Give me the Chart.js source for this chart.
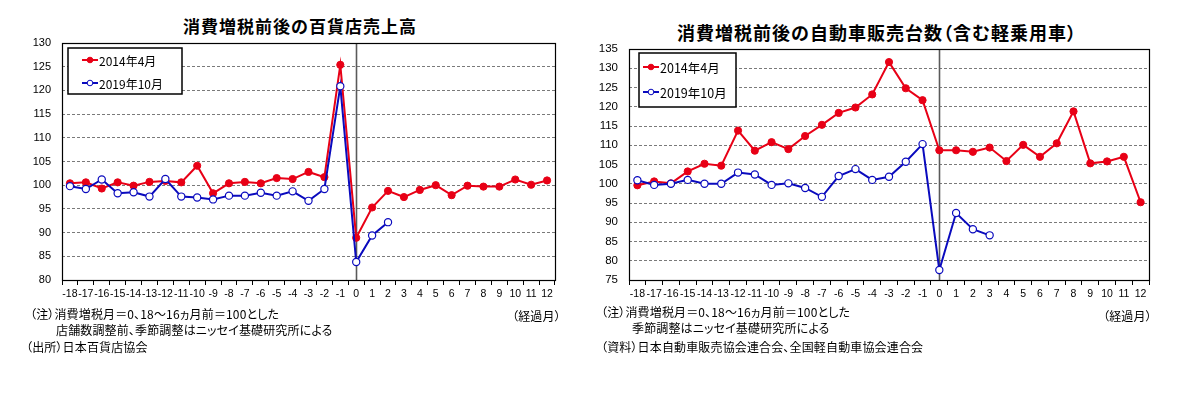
<!DOCTYPE html>
<html><head><meta charset="utf-8">
<script src="https://cdn.jsdelivr.net/npm/chart.js@4.4.1/dist/chart.umd.min.js"></script>
<style>
html,body{margin:0;padding:0;background:#fff;}
body{width:1182px;height:393px;position:relative;overflow:hidden;font-family:"Noto Sans CJK JP","Noto Sans",sans-serif;color:#000;}
canvas{position:absolute;top:0;}
.t{position:absolute;white-space:nowrap;line-height:1;}
.title{font-weight:bold;letter-spacing:1px;transform:translateX(-50%);}
.note{font-size:12px;font-feature-settings:"palt";letter-spacing:0.15px;}
.pp{font-feature-settings:"palt";}
</style></head>
<body>
<div class="t title" style="left:300px;top:17px;font-size:17px;">消費増税前後の百貨店売上高</div>
<div class="t title" style="left:877px;top:23px;font-size:18px;">消費増税前後の自動車販売台数<span class="pp">（</span>含む軽乗用車<span class="pp">）</span></div>
<canvas id="c1" width="590" height="310" style="left:0px"></canvas>
<canvas id="c2" width="592" height="310" style="left:590px"></canvas>
<div class="t note" style="left:30px;top:308px;">（注）消費増税月＝0、18～16ヵ月前＝100とした</div>
<div class="t note" style="left:56px;top:324px;">店舗数調整前、季節調整はニッセイ基礎研究所による</div>
<div class="t note" style="left:26px;top:341px;">（出所）日本百貨店協会</div>
<div class="t note" style="left:512px;top:310px;">（経過月）</div>
<div class="t note" style="left:601px;top:306px;">（注）消費増税月＝0、18～16ヵ月前＝100とした</div>
<div class="t note" style="left:632px;top:322px;">季節調整はニッセイ基礎研究所による</div>
<div class="t note" style="left:601px;top:341px;">（資料）日本自動車販売協会連合会、全国軽自動車協会連合会</div>
<div class="t note" style="left:1103px;top:310px;">（経過月）</div>
<script>
// ---- data ----
const months = ["-18","-17","-16","-15","-14","-13","-12","-11","-10","-9","-8","-7","-6","-5","-4","-3","-2","-1","0","1","2","3","4","5","6","7","8","9","10","11","12"];
const seriesNames = ["2014年4月", "2019年10月"];
const dept2014 = [100.4,100.6,99.3,100.6,99.9,100.7,100.9,100.6,104.1,98.3,100.4,100.7,100.4,101.5,101.3,102.8,101.7,125.4,88.9,95.3,98.8,97.5,99.0,100.0,97.9,99.9,99.7,99.7,101.2,100.1,101.0];
const dept2019 = [99.8,99.2,101.2,98.3,98.5,97.6,101.3,97.6,97.4,97.0,97.8,97.8,98.4,97.8,98.7,96.7,99.2,120.9,83.8,89.4,92.2,null,null,null,null,null,null,null,null,null,null];
const car2014 = [99.6,100.6,100.1,103.2,105.2,104.7,113.8,108.6,110.8,109.0,112.4,115.3,118.4,119.8,123.2,131.6,124.8,121.7,108.7,108.7,108.3,109.4,105.9,110.1,107.0,110.5,118.8,105.3,105.8,107.0,95.2];
const car2019 = [100.9,99.7,100.0,101.0,100.0,100.0,102.9,102.4,99.7,100.1,98.9,96.6,102.0,103.8,101.0,101.8,105.7,110.3,77.6,92.4,88.2,86.6,null,null,null,null,null,null,null,null,null];
const deptTicks = [80,85,90,95,100,105,110,115,120,125,130];
const carTicks = [75,80,85,90,95,100,105,110,115,120,125,130,135];

const RED = 'rgb(232,0,22)';
const BLUE = 'rgb(10,10,190)';

const framePlugin = {
  id:'frame',
  afterDraw(chart, args, opts){
    const {ctx, chartArea:a} = chart;
    ctx.save();
    ctx.strokeStyle = '#000'; ctx.lineWidth = 1.2;
    ctx.strokeRect(Math.round(a.left)+0.5, Math.round(a.top)+0.5, Math.round(a.right-a.left), Math.round(a.bottom-a.top));
    const L = opts.box;
    ctx.fillStyle = '#fff';
    ctx.fillRect(L.x, L.y, L.w, L.h);
    ctx.lineWidth = 1.5; ctx.strokeStyle = '#000';
    ctx.strokeRect(L.x, L.y, L.w, L.h);
    ctx.font = L.font + 'px "Noto Sans CJK JP", sans-serif';
    ctx.textBaseline = 'middle'; ctx.textAlign = 'left';
    chart.data.datasets.forEach((ds, i) => {
      const y = L.rows[i];
      ctx.strokeStyle = ds.borderColor; ctx.lineWidth = 2;
      ctx.beginPath(); ctx.moveTo(L.lx, y); ctx.lineTo(L.lx + L.lw, y); ctx.stroke();
      ctx.beginPath(); ctx.arc(L.lx + L.lw/2, y, 2.8, 0, Math.PI*2);
      ctx.fillStyle = ds.pointBackgroundColor; ctx.fill();
      ctx.lineWidth = 1; ctx.strokeStyle = ds.pointBorderColor; ctx.stroke();
      ctx.fillStyle = '#000';
      ctx.fillText(ds.label, L.lx + L.lw + 1, y + 1);
    });
    ctx.restore();
  },
  beforeDatasetsDraw(chart){
    const {ctx, chartArea:a, scales} = chart;
    ctx.save();
    const x0 = Math.round(scales.x.getPixelForValue(months.indexOf("0"))) + 0.5;
    ctx.strokeStyle = '#5a5a5a'; ctx.lineWidth = 1.6;
    ctx.beginPath(); ctx.moveTo(x0, a.top); ctx.lineTo(x0, a.bottom); ctx.stroke();
    ctx.restore();
  }
};

function makeChart(id, d14, d19, ticks, yw, pad, box, tickFont){
  return new Chart(document.getElementById(id), {
    type:'line',
    data:{
      labels: months,
      datasets:[
        {label:seriesNames[0], data:d14, borderColor:RED, backgroundColor:RED, pointBackgroundColor:RED, pointBorderColor:RED,
         borderWidth:2, pointRadius:3.6, pointBorderWidth:1, tension:0, order:1, spanGaps:false},
        {label:seriesNames[1], data:d19, borderColor:BLUE, backgroundColor:'#fff', pointBackgroundColor:'#fff', pointBorderColor:BLUE,
         borderWidth:2, pointRadius:3.6, pointBorderWidth:1.2, tension:0, order:0, spanGaps:false}
      ]
    },
    options:{
      responsive:false, animation:false, devicePixelRatio:1,
      layout:{padding:pad},
      plugins:{legend:{display:false}, tooltip:{enabled:false}, title:{display:false}, frame:{box:box}},
      scales:{
        x:{type:'category', offset:true,
           grid:{offset:true, drawOnChartArea:false, drawTicks:true, tickLength:5, color:'#000', lineWidth:1},
           border:{display:true, color:'#000'},
           ticks:{color:'#000', font:{family:'"Liberation Sans", Arial, sans-serif', size:10.5}, maxRotation:0, autoSkip:false, padding:3},
           afterFit(s){ s.height = 30; }
        },
        y:{min:ticks[0], max:ticks[ticks.length-1],
           afterBuildTicks(s){ s.ticks = ticks.map(v => ({value:v})); },
           grid:{color:'#7a7a7a', lineWidth:1, drawTicks:false},
           border:{display:false, dash:[3,2]},
           ticks:{color:'#000', font:{family:'"Liberation Sans", Arial, sans-serif', size:tickFont}, padding:11},
           afterFit(s){ s.width = yw; }
        }
      }
    },
    plugins:[framePlugin]
  });
}

makeChart('c1', dept2014, dept2019, deptTicks, 62, {left:0, right:35, top:43, bottom:0},
  {x:68, y:48, w:114, h:46, lx:82, lw:16, rows:[60,83], font:12}, 11);
makeChart('c2', car2014, car2019, carTicks, 39, {left:0, right:33, top:49, bottom:0},
  {x:49, y:53, w:97, h:54, lx:53, lw:16, rows:[67,92], font:12.5}, 11.5);
</script>
</body></html>
